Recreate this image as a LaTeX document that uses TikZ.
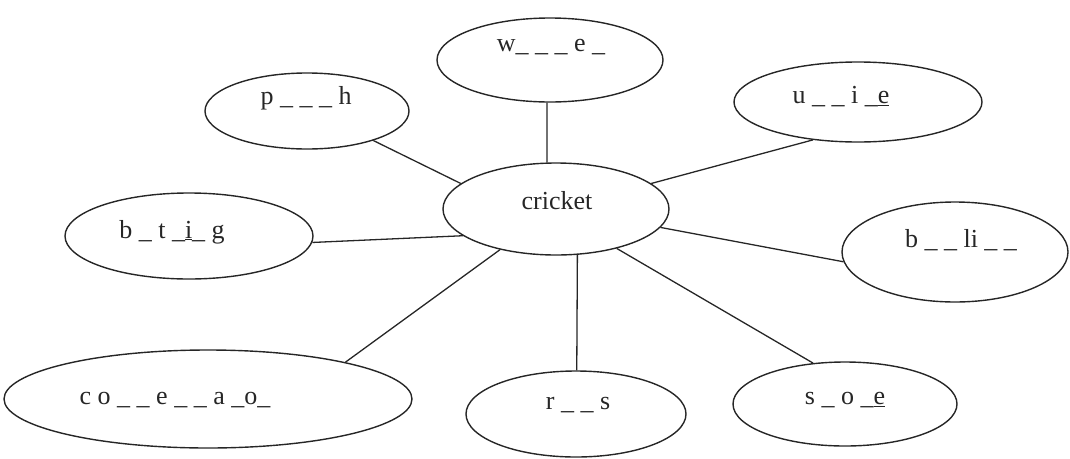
\documentclass[tikz,border=0pt]{standalone}
\usepackage{fontspec}
\setmainfont{Liberation Serif}
\usetikzlibrary{shapes.geometric}
\begin{document}
\begin{tikzpicture}[x=1pt,y=-1pt,
  bubble/.style={draw=black!85,line width=1.4pt,ellipse,inner sep=0pt},
  word/.style={font=\fontsize{26}{30}\selectfont,text=black!85,inner sep=0pt},
  link/.style={draw=black!85,line width=1.3pt}]
\useasboundingbox (0,0) rectangle (1070,458);
% ellipses
\node[bubble,minimum width=226pt,minimum height=92pt] (cricket) at (556,209) {};
\node[bubble,minimum width=226pt,minimum height=84pt] (w) at (550,60) {};
\node[bubble,minimum width=204pt,minimum height=76pt] (p) at (307,111) {};
\node[bubble,minimum width=248pt,minimum height=80pt] (u) at (858,102) {};
\node[bubble,minimum width=248pt,minimum height=86pt] (btig) at (189,236) {};
\node[bubble,minimum width=226pt,minimum height=100pt] (bli) at (955,252) {};
\node[bubble,minimum width=408pt,minimum height=98pt] (co) at (208,399) {};
\node[bubble,minimum width=220pt,minimum height=86pt] (r) at (576,414) {};
\node[bubble,minimum width=224pt,minimum height=84pt] (s) at (845,404) {};
% words
\node[word] (tcricket) at (557,201) {cricket};
\node[word] (tw) at (551,47) {w\_ \_ \_ e \_};
\node[word] (tp) at (306,98) {p \_ \_ \_ h};
\node[word] (tu) at (841,97) {u \_ \_ i \_\underline{e}};
\node[word] (tbtig) at (172,232) {b \_ t \_\underline{i}\_ g};
\node[word] (tbli) at (961,240) {b \_ \_ li \_ \_};
\node[word] (tco) at (175,400) {c o \_ \_ e \_ \_ a \_o\_};
\node[word] (tr) at (578,405) {r \_ \_ s};
\node[word] (ts) at (845,400) {s \_ o \_\underline{e}};
% connectors
\draw[link] (cricket.101) -- (w.-94);
\draw[link] (cricket.165) -- (p.-24);
\draw[link] (cricket.15) -- (u.-140);
\draw[link] (cricket.196) -- (btig.-3);
\draw[link] (cricket.-10) -- (bli.185);
\draw[link] (cricket.216) -- (co.15);
\draw[link] (cricket.-65) -- (r.89);
\draw[link] (cricket.-33) -- (s.128);
\end{tikzpicture}
\end{document}
